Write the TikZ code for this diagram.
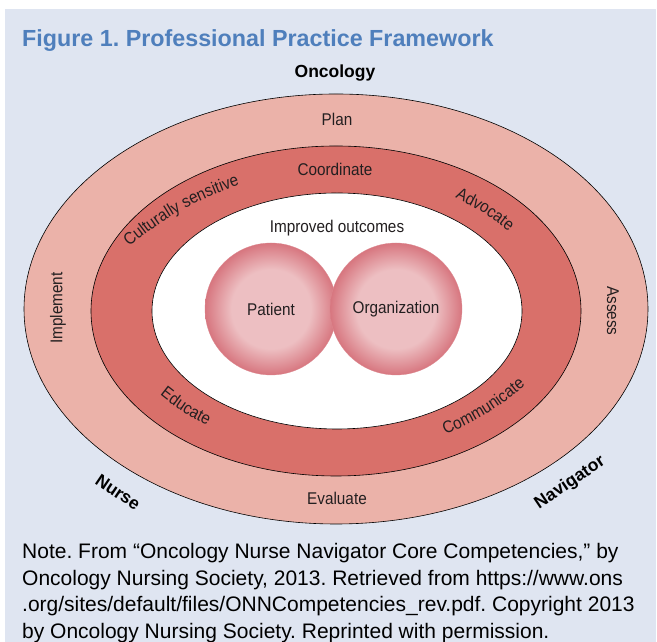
\documentclass[tikz,border=0pt]{standalone}
\usepackage{fontspec}
\setmainfont{Liberation Sans}
\newfontfamily\narrowfont[FakeStretch=0.9]{Liberation Sans}
\usetikzlibrary{shapes.geometric}
\usetikzlibrary{decorations.text}
\usetikzlibrary{positioning}

\definecolor{panelblue}{HTML}{DFE5F1}
\definecolor{titleblue}{HTML}{4F7FBC}
\definecolor{outerpink}{HTML}{EBB2A9}
\definecolor{bandred}{HTML}{D9706A}
\definecolor{orblight}{HTML}{EDBFC2}
\definecolor{orbdark}{HTML}{D7767F}
\definecolor{inkgray}{HTML}{231F20}
\pgfdeclareradialshading{orbshade}{\pgfpoint{0bp}{0bp}}{color(0bp)=(orblight); color(15bp)=(orblight); color(25bp)=(orbdark); color(50bp)=(orbdark)}
\newcommand{\lblfont}{\narrowfont\fontsize{17}{17}\selectfont}
\frenchspacing

\begin{document}
\begin{tikzpicture}[x=1pt, y=1pt,
			ring/.style={ellipse, draw=black, line width=0.6pt, inner sep=0pt},
			lbl/.style={font=\lblfont, text=inkgray, inner sep=0pt},
			orb/.style={circle, shading=orbshade, draw=orbdark!85!white, line width=0.3pt, minimum size=132pt, inner sep=0pt, lbl},
			bold/.style={font=\bfseries\fontsize{17.5}{17.5}\selectfont, text=black, inner sep=0pt},
			bendtext/.style={decorate, decoration={text along path, text align=center, text color=inkgray, text={|\lblfont|#1}}}]
			\useasboundingbox (0,0) rectangle (657,642);
			\fill[panelblue] (5,0) rectangle (656,633);
			
			\node[anchor=base west, font=\bfseries\fontsize{23.3}{23.3}\selectfont, text=titleblue, inner sep=0pt](title) at (22,595) {Figure 1. Professional Practice Framework};
			\node[bold](oncology) at (335,569) {Oncology};
			
			% three rings
			\node[ring, fill=outerpink, minimum width=624pt, minimum height=430pt](outerring) at (336,333) {};
			\node[ring, fill=bandred, minimum width=490pt, minimum height=330pt](bandring) at (336,331) {};
			\node[ring, fill=white, minimum width=370pt, minimum height=236pt](innerring) at (337,331) {};
			
			\node[orb](patient) at (271,333) {Patient};
			\node[orb](organization) at (396,333) {Organization};
			
			\node[lbl](plan) at (337,523) {Plan};
			\node[lbl](coordinate) at (335,473) {Coordinate};
			\node[lbl](outcomes) at (337,414) {Improved outcomes};
			\node[lbl](evaluate) at (337,144) {Evaluate};
			\node[lbl, rotate=90](implement) at (58,334) {Implement};
			\node[lbl, rotate=-90](assess) at (613,331) {Assess};
			
			% curved words in the red band
			\coordinate (cult1) at (129,395);
			\coordinate (cult2) at (240,457);
			\coordinate (advo1) at (456,444);
			\coordinate (advo2) at (508,411);
			\coordinate (educ1) at (160,247);
			\coordinate (educ2) at (207,217);
			\coordinate (comm1) at (445,207);
			\coordinate (comm2) at (526,257);
			\path[bendtext={Culturally sensitive}] (cult1) to[bend left=10] (cult2);
			\path[bendtext={Advocate}] (advo1) to[bend left=6] (advo2);
			\path[bendtext={Educate}] (educ1) to[bend right=6] (educ2);
			\path[bendtext={Communicate}] (comm1) to[bend right=8] (comm2);
			
			\node[bold, rotate=-34](nurse) at (118,150) {Nurse};
			\node[bold, rotate=34](navigator) at (570,159) {Navigator};
			
			\node[anchor=north west, align=left, font=\fontsize{21}{26.7}\selectfont, inner sep=0pt](note) at (22,99) {Note. From “Oncology Nurse Navigator Core Competencies,” by\\Oncology Nursing Society, 2013. Retrieved from https://www.ons\\.org/sites/default/files/ONNCompetencies\_rev.pdf. Copyright 2013\\by Oncology Nursing Society. Reprinted with permission.};
		\end{tikzpicture}
\end{document}
